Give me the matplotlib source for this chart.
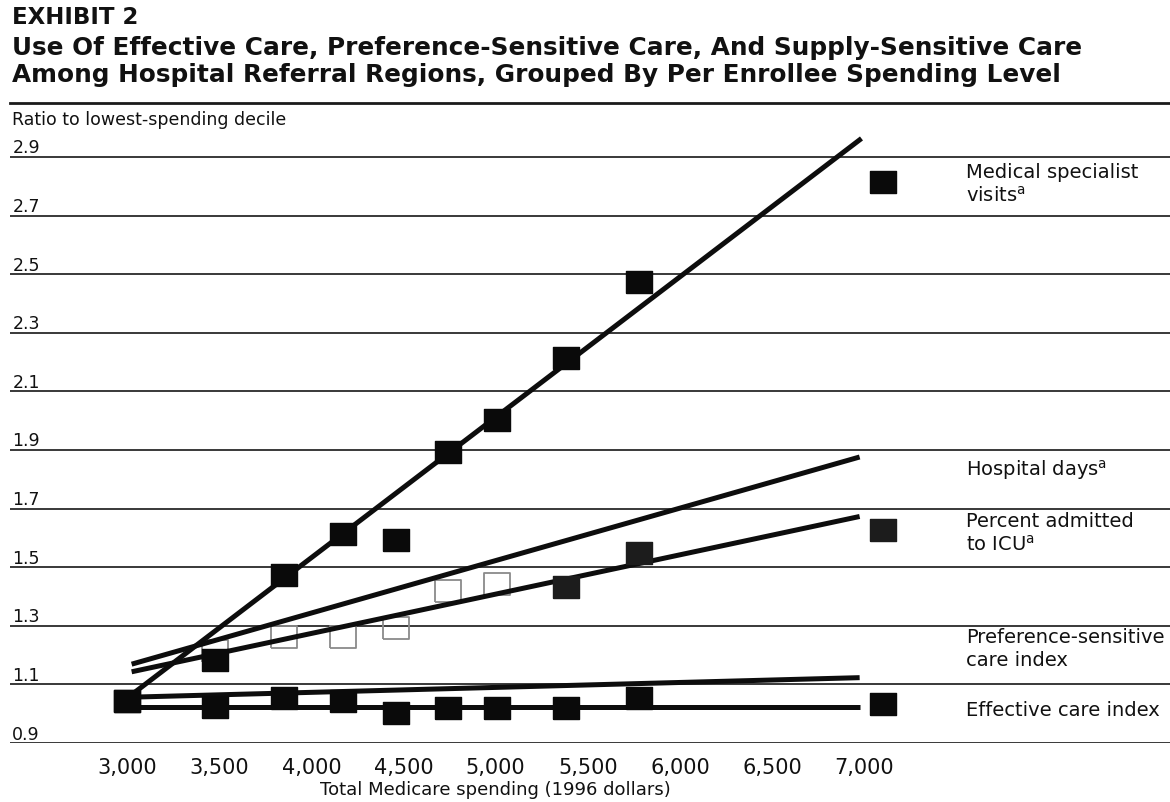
import matplotlib
matplotlib.use("Agg")
import matplotlib.pyplot as plt
from matplotlib.transforms import blended_transform_factory

# ---------------- data ----------------
spending = [3000, 3480, 3850, 4170, 4460, 4740, 5010, 5380, 5780, 7100]
medical_visits = [1.00, 1.14, 1.43, 1.57, 1.55, 1.85, 1.96, 2.17, 2.43, 2.77]
icu_admitted = [1.00, 1.17, 1.22, 1.22, 1.25, 1.375, 1.40, 1.39, 1.505, 1.585]
effective_care = [1.00, 0.98, 1.01, 1.00, 0.96, 0.975, 0.975, 0.975, 1.01, 0.99]

# fitted trend lines (start/end)
medical_fit_x = [3000, 6985]
medical_fit_y = [1.01, 2.92]
hospital_fit_x = [3025, 6975]
hospital_fit_y = [1.126, 1.833]
icu_fit_x = [3025, 6975]
icu_fit_y = [1.10, 1.63]
preference_fit_x = [3000, 6975]
preference_fit_y = [1.013, 1.08]
effective_fit_x = [3000, 6975]
effective_fit_y = [0.98, 0.98]

y_ticks = [0.9, 1.1, 1.3, 1.5, 1.7, 1.9, 2.1, 2.3, 2.5, 2.7, 2.9]
x_ticks = [3000, 3500, 4000, 4500, 5000, 5500, 6000, 6500, 7000]
x_ticklabels = ["3,000", "3,500", "4,000", "4,500", "5,000", "5,500",
                "6,000", "6,500", "7,000"]

series_labels = [
    ("Medical specialist\nvisits$^{\\mathrm{a}}$", 2.764),
    ("Hospital days$^{\\mathrm{a}}$", 1.788),
    ("Percent admitted\nto ICU$^{\\mathrm{a}}$", 1.573),
    ("Preference-sensitive\ncare index", 1.177),
    ("Effective care index", 0.969),
]

# ---------------- figure ----------------
W, H = 1170, 802
fig = plt.figure(figsize=(W / 100, H / 100), dpi=100)
ax = fig.add_axes([10 / W, (H - 743) / H, 1160 / W, (743 - 103) / H])
ax.set_xlim(2365, 8659)
ax.set_ylim(0.857, 3.041)
for s in ax.spines.values():
    s.set_visible(False)

FONT = "DejaVu Sans"
grid_off = 0.043
for v in y_ticks:
    ax.axhline(v - grid_off, color="#2a2a2a", lw=1.3, zorder=1)
ax.axhline(3.041, color="#1a1a1a", lw=2.0, zorder=1, clip_on=False)

ytr = blended_transform_factory(ax.transAxes, ax.transData)
for v in y_ticks:
    ax.text(0.002, v - grid_off + 0.029, f"{v:.1f}", transform=ytr,
            ha="left", va="center", fontsize=12.5, family=FONT, color="#111")
ax.text(0.002, 2.983, "Ratio to lowest-spending decile", transform=ytr,
        ha="left", va="center", fontsize=12.5, family=FONT, color="#111")

ax.set_yticks([])
ax.set_xticks(x_ticks)
ax.set_xticklabels(x_ticklabels, fontsize=15, family=FONT, color="#111")
ax.tick_params(axis="x", length=0, pad=11)

fig.text(495 / W, 1 - 790 / H, "Total Medicare spending (1996 dollars)",
         ha="center", va="center", fontsize=13, family=FONT, color="#111")

# trend lines
lw = 3.6
for fx, fy in [(medical_fit_x, medical_fit_y), (hospital_fit_x, hospital_fit_y),
               (icu_fit_x, icu_fit_y), (preference_fit_x, preference_fit_y),
               (effective_fit_x, effective_fit_y)]:
    ax.plot(fx, fy, color="#0d0d0d", lw=lw, solid_capstyle="butt", zorder=3)

rect = [(-1.25, -1.0), (1.25, -1.0), (1.25, 1.0), (-1.25, 1.0), (-1.25, -1.0)]
ms = 19

# ICU: early points faint/hollow, later points dark
ax.plot(spending[1:7], icu_admitted[1:7], linestyle="none", marker=rect,
        markersize=ms, markerfacecolor="none", markeredgecolor="#8a8a8a",
        markeredgewidth=1.3, zorder=2)
ax.plot(spending[7:], icu_admitted[7:], linestyle="none", marker=rect,
        markersize=ms, markerfacecolor="#1c1c1c", markeredgecolor="#1c1c1c",
        zorder=4)
ax.plot(spending, effective_care, linestyle="none", marker=rect, markersize=ms,
        markerfacecolor="#0a0a0a", markeredgecolor="#0a0a0a", zorder=4)
ax.plot(spending, medical_visits, linestyle="none", marker=rect, markersize=ms,
        markerfacecolor="#0a0a0a", markeredgecolor="#0a0a0a", zorder=5)

for txt, yv in series_labels:
    ax.text((966 - 10) / 1160, yv, txt, transform=ytr, ha="left", va="center",
            fontsize=14, family=FONT, color="#111", linespacing=1.25)

# titles
fig.text(12 / W, 1 - 18 / H, "EXHIBIT 2", ha="left", va="center",
         fontsize=16.5, fontweight="bold", family=FONT, color="#111")
fig.text(12 / W, 1 - 48 / H,
         "Use Of Effective Care, Preference-Sensitive Care, And Supply-Sensitive Care",
         ha="left", va="center", fontsize=17.8, fontweight="bold", family=FONT,
         color="#111")
fig.text(12 / W, 1 - 75 / H,
         "Among Hospital Referral Regions, Grouped By Per Enrollee Spending Level",
         ha="left", va="center", fontsize=17.8, fontweight="bold", family=FONT,
         color="#111")

fig.savefig("out.png", dpi=100, facecolor="white")
